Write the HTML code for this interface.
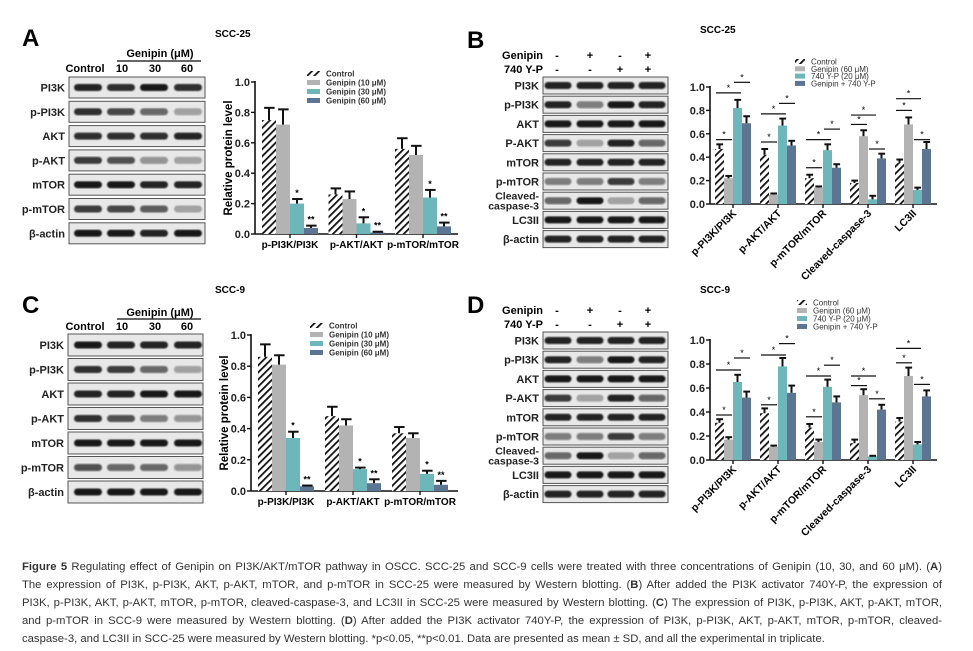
<!DOCTYPE html>
<html><head><meta charset="utf-8">
<style>
html,body{margin:0;padding:0;background:#fff;}
body{width:973px;height:651px;position:relative;overflow:hidden;font-family:"Liberation Sans",sans-serif;}
#fig{position:absolute;left:0;top:0;}
#caption{position:absolute;left:22px;top:558px;width:920px;font-size:11.3px;line-height:18px;color:#333;font-family:"Liberation Sans",sans-serif;}
#caption div{text-align:justify;text-align-last:justify;white-space:nowrap;overflow:hidden;}
#caption div.last{text-align-last:left;}
</style></head>
<body>
<svg id="fig" width="973" height="551" viewBox="0 0 973 551" xmlns="http://www.w3.org/2000/svg">
<defs>
<pattern id="hatch" patternUnits="userSpaceOnUse" width="5" height="5" patternTransform="rotate(45)">
<rect width="5" height="5" fill="#fff"/><rect x="0" y="0" width="1.8" height="5" fill="#111"/>
</pattern>
<filter id="blur"><feGaussianBlur stdDeviation="0.8"/></filter>
</defs>
</svg>
<div id="caption">
<div><b>Figure 5</b> Regulating effect of Genipin on PI3K/AKT/mTOR pathway in OSCC. SCC-25 and SCC-9 cells were treated with three concentrations of Genipin (10, 30, and 60 μM). (<b>A</b>)</div>
<div>The expression of PI3K, p-PI3K, AKT, p-AKT, mTOR, and p-mTOR in SCC-25 were measured by Western blotting. (<b>B</b>) After added the PI3K activator 740Y-P, the expression of</div>
<div>PI3K, p-PI3K, AKT, p-AKT, mTOR, p-mTOR, cleaved-caspase-3, and LC3II in SCC-25 were measured by Western blotting. (<b>C</b>) The expression of PI3K, p-PI3K, AKT, p-AKT, mTOR,</div>
<div>and p-mTOR in SCC-9 were measured by Western blotting. (<b>D</b>) After added the PI3K activator 740Y-P, the expression of PI3K, p-PI3K, AKT, p-AKT, mTOR, p-mTOR, cleaved-</div>
<div class="last">caspase-3, and LC3II in SCC-25 were measured by Western blotting. *p&lt;0.05, **p&lt;0.01. Data are presented as mean ± SD, and all the experimental in triplicate.</div>
</div>
<script>
// ---------- DATA ----------
const catsAC = ["p-PI3K/PI3K","p-AKT/AKT","p-mTOR/mTOR"];
const seriesAC = ["Control","Genipin (10 μM)","Genipin (30 μM)","Genipin (60 μM)"];
const yTicks = [0.0,0.2,0.4,0.6,0.8,1.0];
const tickLabels = ["0.0","0.2","0.4","0.6","0.8","1.0"];
const aCtrl=[0.75,0.26,0.56], aG10=[0.72,0.23,0.52], aG30=[0.20,0.07,0.24], aG60=[0.04,0.01,0.05];
const aCtrlErr=[0.08,0.04,0.07], aG10Err=[0.10,0.05,0.06], aG30Err=[0.03,0.04,0.05], aG60Err=[0.015,0.005,0.025];
const aStars=["","","*","**"];
const cCtrl=[0.86,0.48,0.37], cG10=[0.81,0.42,0.34], cG30=[0.34,0.14,0.11], cG60=[0.03,0.05,0.04];
const cCtrlErr=[0.08,0.06,0.04], cG10Err=[0.06,0.04,0.03], cG30Err=[0.04,0.01,0.02], cG60Err=[0.005,0.025,0.025];

const catsBD = ["p-PI3K/PI3K","p-AKT/AKT","p-mTOR/mTOR","Cleaved-caspase-3","LC3II"];
const seriesBD = ["Control","Genipin (60 μM)","740 Y-P (20 μM)","Genipin + 740 Y-P"];
const bCtrl=[0.47,0.42,0.22,0.18,0.35], bGen=[0.22,0.08,0.14,0.58,0.68], b740=[0.82,0.67,0.46,0.04,0.12], bCombo=[0.69,0.50,0.31,0.39,0.47];
const bCtrlErr=[0.04,0.05,0.03,0.02,0.03], bGenErr=[0.02,0.01,0.01,0.05,0.06], b740Err=[0.07,0.06,0.05,0.03,0.02], bComboErr=[0.06,0.04,0.03,0.04,0.06];
const bSig=[[0,0,1,0.55],[0,0,2,0.95],[0,2,3,1.04],[1,0,1,0.53],[1,0,2,0.77],[1,2,3,0.86],[2,0,1,0.31],[2,0,2,0.55],[2,2,3,0.64],[3,0,1,0.68],[3,0,2,0.76],[3,2,3,0.47],[4,0,1,0.80],[4,0,2,0.90],[4,2,3,0.55]];
const dCtrl=[0.31,0.39,0.27,0.14,0.32], dGen=[0.17,0.11,0.15,0.54,0.70], d740=[0.65,0.78,0.61,0.03,0.13], dCombo=[0.52,0.56,0.48,0.42,0.53];
const dCtrlErr=[0.03,0.04,0.03,0.03,0.03], dGenErr=[0.02,0.01,0.02,0.05,0.07], d740Err=[0.06,0.07,0.06,0.005,0.02], dComboErr=[0.05,0.06,0.05,0.04,0.05];
const dSig=[[0,0,1,0.375],[0,0,2,0.75],[0,2,3,0.85],[1,0,1,0.46],[1,0,2,0.875],[1,2,3,0.97],[2,0,1,0.36],[2,0,2,0.70],[2,2,3,0.79],[3,0,1,0.62],[3,0,2,0.70],[3,2,3,0.51],[4,0,1,0.81],[4,0,2,0.93],[4,2,3,0.63]];

const fills=["url(#hatch)","#b3b3b3","#6db7ba","#5b7593"];
const svg=document.getElementById('fig');
const NS="http://www.w3.org/2000/svg";
function mk(tag,attrs,parent){const e=document.createElementNS(NS,tag);for(const k in attrs)e.setAttribute(k,attrs[k]);(parent||svg).appendChild(e);return e;}
function txt(s,attrs,parent){const e=mk('text',attrs,parent);e.textContent=s;return e;}

function chart(cfg){
  const g=mk('g',{});
  
  
  const y=v=>cfg.y0-v*(cfg.y0-cfg.y1);
  const gx=i=>cfg.ax+cfg.pad+i*cfg.gs;
  const ya=mk('line',{x1:cfg.ax,y1:cfg.y1-1,x2:cfg.ax,y2:cfg.y0,stroke:'#111','stroke-width':1.6},g);
  
  
  const xa=mk('line',{x1:cfg.ax,y1:cfg.y0,x2:cfg.xe,y2:cfg.y0,stroke:'#111','stroke-width':1.6},g);
  
  
  yTicks.forEach((t,i)=>{
    mk('line',{x1:cfg.ax-4,y1:y(t),x2:cfg.ax,y2:y(t),stroke:'#111','stroke-width':1.4},g);
    const tl=txt(tickLabels[i],{x:cfg.ax-5,y:y(t)+4,'font-size':11,'font-weight':'bold','text-anchor':'end',fill:'#222'},g);
    
    
  });
  cfg.cats.forEach((c,i)=>{
    cfg.series.forEach((s,j)=>{
      const v=cfg.vals[j][i], e=cfg.errs[j][i];
      const bx=gx(i)+j*cfg.bw;
      const r=mk('rect',{x:bx,y:y(v),width:cfg.bw,height:cfg.y0-y(v),fill:fills[j]},g);
      
      
      const cx=bx+cfg.bw/2;
      mk('line',{x1:cx,y1:y(v),x2:cx,y2:y(v+e),stroke:'#111','stroke-width':2},g);
      mk('line',{x1:cx-cfg.bw*0.35,y1:y(v+e),x2:cx+cfg.bw*0.4,y2:y(v+e),stroke:'#111','stroke-width':2},g);
      if(cfg.stars&&cfg.stars[j]) txt(cfg.stars[j],{x:cx,y:y(v+e)-3,'font-size':9,'font-weight':'bold','text-anchor':'middle'},g);
    });
    const center=gx(i)+2*cfg.bw;
    mk('line',{x1:center,y1:cfg.y0,x2:center,y2:cfg.y0+4,stroke:'#111','stroke-width':1.4},g);
    let lab;
    if(cfg.rot){
      lab=txt(c,{x:center+4,y:cfg.y0+10,'font-size':10.5,'font-weight':'bold','text-anchor':'end',transform:`rotate(-45 ${center+4} ${cfg.y0+10})`},g);
    } else {
      lab=txt(c,{x:center,y:cfg.y0+14,'font-size':10,'font-weight':'bold','text-anchor':'middle'},g);
    }
    
    
  });
  if(cfg.sig) cfg.sig.forEach(s=>{
    const x1=gx(s[0])+s[1]*cfg.bw+1, x2=gx(s[0])+(s[2]+1)*cfg.bw-1, yy=y(s[3]);
    mk('line',{x1:x1,y1:yy,x2:x2,y2:yy,stroke:'#111','stroke-width':1.2},g);
    txt('*',{x:(x1+x2)/2,y:yy-2,'font-size':9,'text-anchor':'middle'},g);
  });
  if(cfg.ytitle){
    const t=txt(cfg.ytitle,{x:cfg.ytx,y:(cfg.y0+cfg.y1)/2,'font-size':11.5,'font-weight':'bold','text-anchor':'middle',transform:`rotate(-90 ${cfg.ytx} ${(cfg.y0+cfg.y1)/2})`},g);
    
    
  }
  cfg.series.forEach((s,j)=>{
    const ly=cfg.ly+j*cfg.lsp;
    mk('rect',{x:cfg.lx,y:ly-3,width:cfg.lw,height:5,fill:fills[j]},g);
    const lt=txt(s,{x:cfg.lx+cfg.lw+6,y:ly+2.5,'font-size':8,'font-weight':cfg.rot?'normal':'bold',fill:'#333'},g);
    
    
  });
  const tt=txt(cfg.title,{x:cfg.tx,y:cfg.ty,'font-size':10,'font-weight':'bold'},g);
  
  
}

chart({name:'chart-a',cats:catsAC,series:seriesAC,vals:[aCtrl,aG10,aG30,aG60],errs:[aCtrlErr,aG10Err,aG30Err,aG60Err],stars:aStars,
  ax:255,xe:458,y0:234,y1:82,pad:7,gs:66.5,bw:14,ytitle:'Relative protein level',ytx:232,lx:307,ly:74,lsp:9,lw:13,title:'SCC-25',tx:215,ty:37});
chart({name:'chart-c',cats:catsAC,series:seriesAC,vals:[cCtrl,cG10,cG30,cG60],errs:[cCtrlErr,cG10Err,cG30Err,cG60Err],stars:aStars,
  ax:251,xe:458,y0:491,y1:335,pad:7,gs:67,bw:14,ytitle:'Relative protein level',ytx:228,lx:310,ly:326,lsp:9,lw:13,title:'SCC-9',tx:215,ty:293});
chart({name:'chart-b',cats:catsBD,series:seriesBD,vals:[bCtrl,bGen,b740,bCombo],errs:[bCtrlErr,bGenErr,b740Err,bComboErr],sig:bSig,rot:true,
  ax:710,xe:937,y0:204,y1:87,pad:5,gs:45,bw:9,lx:795,ly:62,lsp:7.3,lw:10,title:'SCC-25',tx:700,ty:33});
chart({name:'chart-d',cats:catsBD,series:seriesBD,vals:[dCtrl,dGen,d740,dCombo],errs:[dCtrlErr,dGenErr,d740Err,dComboErr],sig:dSig,rot:true,
  ax:710,xe:937,y0:460,y1:340,pad:5,gs:45,bw:9,lx:797,ly:303,lsp:8,lw:10,title:'SCC-9',tx:700,ty:293});

// ---------- BLOTS ----------
const blotA_rows=["PI3K","p-PI3K","AKT","p-AKT","mTOR","p-mTOR","β-actin"];
const blotA_int=[[0.9,0.85,0.95,0.85],[0.85,0.75,0.6,0.35],[0.85,0.85,0.85,0.9],[0.8,0.7,0.4,0.3],[0.95,0.95,0.9,0.9],[0.8,0.75,0.65,0.3],[0.95,0.95,0.9,0.95]];
const blotC_int=[[0.95,0.9,0.9,0.9],[0.85,0.8,0.6,0.35],[0.9,0.9,0.95,0.95],[0.85,0.7,0.5,0.4],[0.95,0.95,0.95,0.95],[0.7,0.6,0.6,0.4],[0.95,0.95,0.95,0.95]];
const blotB_rows=["PI3K","p-PI3K","AKT","P-AKT","mTOR","p-mTOR","Cleaved-\ncaspase-3","LC3II","β-actin"];
const blotB_int=[[0.9,0.9,0.9,0.9],[0.9,0.5,0.95,0.9],[0.95,0.95,0.95,0.95],[0.8,0.3,0.9,0.6],[0.9,0.9,0.9,0.9],[0.5,0.5,0.8,0.5],[0.6,0.95,0.3,0.6],[0.95,0.95,0.95,0.95],[0.9,0.9,0.9,0.9]];

function blot(name,x0,x1,rowsTop,pitch,h,rows,ints,cols,bw){
  const g=mk('g',{});
  
  
  rows.forEach((r,i)=>{
    const ty=rowsTop+i*pitch;
    mk('rect',{x:x0,y:ty,width:x1-x0,height:h,fill:'#e8e8e8',stroke:'#555','stroke-width':1},g);
    ints[i].forEach((v,k)=>{
      mk('rect',{x:cols[k]-bw/2,y:ty+h/2-3.5,width:bw,height:7,rx:3.5,fill:'#111','fill-opacity':v,filter:'url(#blur)'},g);
    });
    const parts=r.split('\n');
    parts.forEach((p,pi)=>{
      txt(p,{x:x0-4,y:ty+h/2+4+(parts.length>1?(pi-0.5)*10:0),'font-size':parts.length>1?10.5:11,'font-weight':'bold','text-anchor':'end',fill:'#222'},g);
    });
  });
}
blot('blot-a',69,205,77,24.3,21,blotA_rows,blotA_int,[88,121,154,188],28);
blot('blot-c',68,203,334,24.5,22,blotA_rows,blotC_int,[88,121,154,188],28);
blot('blot-b',543,668,77,19.2,17,blotB_rows,blotB_int,[558,590,621,652],27);
blot('blot-d',543,668,332,19.2,17,blotB_rows,blotB_int,[558,590,621,652],27);

function hdrAC(yG,yL,yC){
  txt('Genipin (μM)',{x:160,y:yG,'font-size':11,'font-weight':'bold','text-anchor':'middle'});
  mk('line',{x1:117,y1:yL,x2:201,y2:yL,stroke:'#333','stroke-width':1.5});
  txt('Control',{x:85,y:yC,'font-size':11,'font-weight':'bold','text-anchor':'middle'});
  [['10',122],['30',155],['60',187]].forEach(a=>txt(a[0],{x:a[1],y:yC,'font-size':11,'font-weight':'bold','text-anchor':'middle'}));
}
hdrAC(57,61,72);
hdrAC(316,319,330);
function hdrBD(y1,y2){
  txt('Genipin',{x:543,y:y1,'font-size':11,'font-weight':'bold','text-anchor':'end'});
  txt('740 Y-P',{x:543,y:y2,'font-size':11,'font-weight':'bold','text-anchor':'end'});
  ['-','+','-','+'].forEach((s,k)=>txt(s,{x:[557,590,620,648][k],y:y1,'font-size':11,'font-weight':'bold','text-anchor':'middle'}));
  ['-','-','+','+'].forEach((s,k)=>txt(s,{x:[557,590,620,648][k],y:y2,'font-size':11,'font-weight':'bold','text-anchor':'middle'}));
}
hdrBD(59,73);
hdrBD(314,328);
[['A',22,46],['B',467,48],['C',22,313],['D',467,313]].forEach(p=>{
  const t=txt(p[0],{x:p[1],y:p[2],'font-size':24,'font-weight':'bold'});
  
  
});
</script>
</body></html>
